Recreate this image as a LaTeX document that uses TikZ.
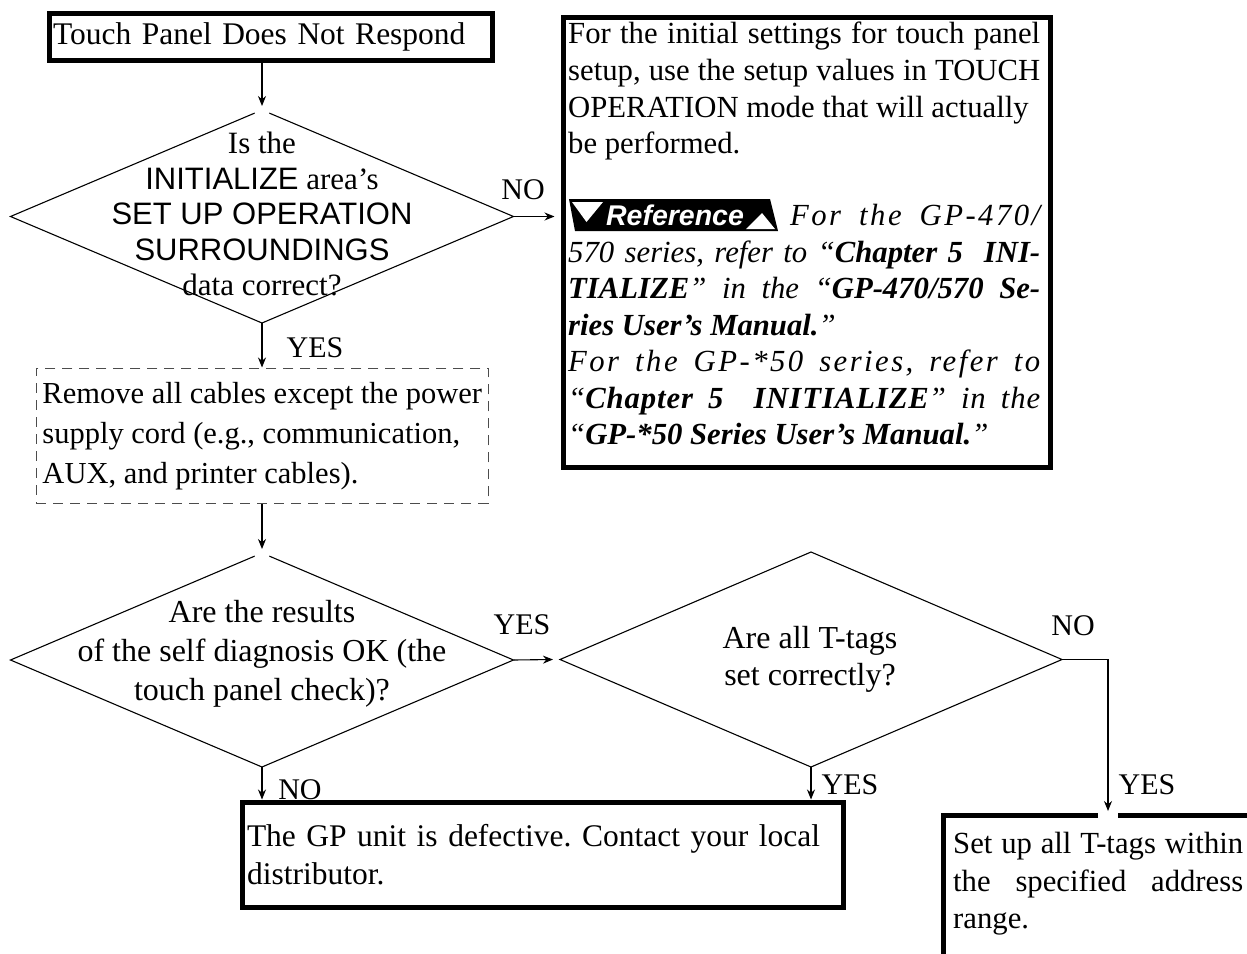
\documentclass[tikz,border=0pt]{standalone}
\usepackage{fontspec}
\setmainfont{Liberation Serif}
\newfontfamily\arialf{Liberation Sans}
\usetikzlibrary{shapes.geometric,arrows.meta,calc}
\definecolor{dashgray}{gray}{0.3}
\frenchspacing
\begin{document}
\begin{tikzpicture}[x=1pt,y=-1pt,
  txt/.style={inner sep=0},
  bigbox/.style={draw, line width=5pt, inner sep=0},
  dia/.style={draw, diamond, line width=1.1pt, inner sep=0, outer sep=0},
  conn/.style={line width=1.1pt, -{Stealth[length=10pt,width=8pt]}},
  lbl/.style={font=\fontsize{30}{30}\selectfont, inner sep=0},
  dashbox/.style={draw=dashgray, line width=1.5pt, dash pattern=on 10pt off 7pt, inner sep=0}]
\useasboundingbox (0,0) rectangle (1247,953);

% start box
\node[bigbox, anchor=north west, minimum width=443, minimum height=47, text width=435, inner xsep=4, align=left, font=\fontsize{31.5}{36}\selectfont] (start) at (46.5,10.5) {Touch Panel Does Not Respond};

% diamonds
\node[dia, minimum width=503, minimum height=213] (d1) at (262,216.5) {};
\node[dia, minimum width=503, minimum height=214] (d2) at (262,660) {};
\node[dia, minimum width=502, minimum height=215] (d3) at (811,659.5) {};
\fill[white] (d1.north) circle[radius=8pt];
\fill[white] (d2.north) circle[radius=8pt];

\node[txt, align=center, font=\fontsize{31}{35.5}\selectfont] (d1t) at (262,214) {Is the\\{\arialf INITIALIZE} area’s\\{\arialf SET UP OPERATION}\\{\arialf SURROUNDINGS}\\data correct?};
\node[txt, align=center, font=\fontsize{32}{39}\selectfont] (d2t) at (262,654) {Are the results\\of the self diagnosis OK (the\\touch panel check)?};
\node[txt, align=center, font=\fontsize{32}{37}\selectfont] (d3t) at (810,659) {Are all T-tags\\set correctly?};

% reference box
\node[bigbox, anchor=north west, minimum width=487, minimum height=450] (refbox) at (560.5,14.5) {};
\node[txt, anchor=north west, text width=472, align=justify, font=\fontsize{30.7}{36.7}\selectfont] (reftxt1) at (568,22) {For the initial settings for touch panel\linebreak setup, use the setup values in TOUCH\linebreak OPERATION mode that will actually\\be performed.};
\node[txt, anchor=north west, text width=472, align=justify, font=\fontsize{30.7}{36.5}\selectfont\itshape] (reftxt2) at (568,204) {\hspace*{222pt}{\addfontfeature{LetterSpace=8}For the GP-470/}\linebreak
570 series, refer to “\textbf{Chapter 5\ \ INI-}\linebreak
\textbf{TIALIZE}” in the “\textbf{GP-470/570 Se-}\linebreak
\textbf{ries User’s Manual.}”\\
{\addfontfeature{LetterSpace=8}For the GP-*50 series, refer to}\linebreak
{\addfontfeature{LetterSpace=3}“\textbf{Chapter 5\ \ INITIALIZE}” in the}\linebreak
“\textbf{GP-*50 Series User’s Manual.}”};
% banner
\coordinate (bnc) at (673,215);
\fill[black] ($(bnc)+(-104,-16)$) -- ($(bnc)+(97,-16)$) -- ($(bnc)+(105,16)$) -- ($(bnc)+(-98,16)$) -- cycle;
\fill[white] ($(bnc)+(-101,-13)$) -- ($(bnc)+(-70,-13)$) -- ($(bnc)+(-86.5,7)$) -- cycle;
\fill[white] ($(bnc)+(73,14)$) -- ($(bnc)+(102,14)$) -- ($(bnc)+(89,-2)$) -- cycle;
\node[inner sep=0, text=white, font=\fontsize{28.5}{30}\selectfont\arialf\bfseries\itshape] (banner) at ($(bnc)+(2,0)$) {Reference};

% dashed box
\node[dashbox, anchor=north west, minimum width=452, minimum height=135, inner xsep=0, align=left, font=\fontsize{30.5}{40}\selectfont] (remove) at (35.5,367.5) {Remove all cables except the power\\supply cord (e.g., communication,\\AUX, and printer cables).};

% bottom box
\node[bigbox, anchor=north west, minimum width=601, minimum height=105, text width=591, inner xsep=5, align=left, font=\fontsize{31.5}{38}\selectfont] (defect) at (239.5,799.5) {The GP unit is defective. Contact your local\\distributor.};

% set tags box
\draw[line width=5pt] (943,965) -- (943,815) -- (1098,815);
\draw[line width=5pt] (1118,815) -- (1260,815);
\node[txt, anchor=north west, text width=290, align=justify, font=\fontsize{30.7}{37.5}\selectfont] (settags) at (953,832) {Set up all T-tags within\linebreak the specified address\linebreak range.};
\coordinate (stin) at (1108,811);

% connectors
\draw[conn] (d1.north |- start.south) -- ($(d1.north)+(0,-4)$);
\draw[conn] (d1.south) -- (d1.south |- remove.north);
\draw[conn] (d2.north |- remove.south) -- ($(d2.north)+(0,-4)$);
\draw[conn] (d1.east) -- ($(refbox.west |- d1.east)+(-6,0)$);
\draw[conn] (d2.east) -- ($(d3.west)+(-7,0)$);
\draw[conn] (d2.south) -- (d2.south |- defect.north);
\draw[conn] (d3.south) -- (d3.south |- defect.north);
\draw[conn] (d3.east) -| (stin);

% labels
\node[lbl] (l1) at (523,190) {NO};
\node[lbl] (l2) at (315,348) {YES};
\node[lbl] (l3) at (522,625) {YES};
\node[lbl] (l4) at (300,790) {NO};
\node[lbl] (l5) at (850,785) {YES};
\node[lbl] (l6) at (1073,626) {NO};
\node[lbl] (l7) at (1147,785) {YES};
\end{tikzpicture}
\end{document}
